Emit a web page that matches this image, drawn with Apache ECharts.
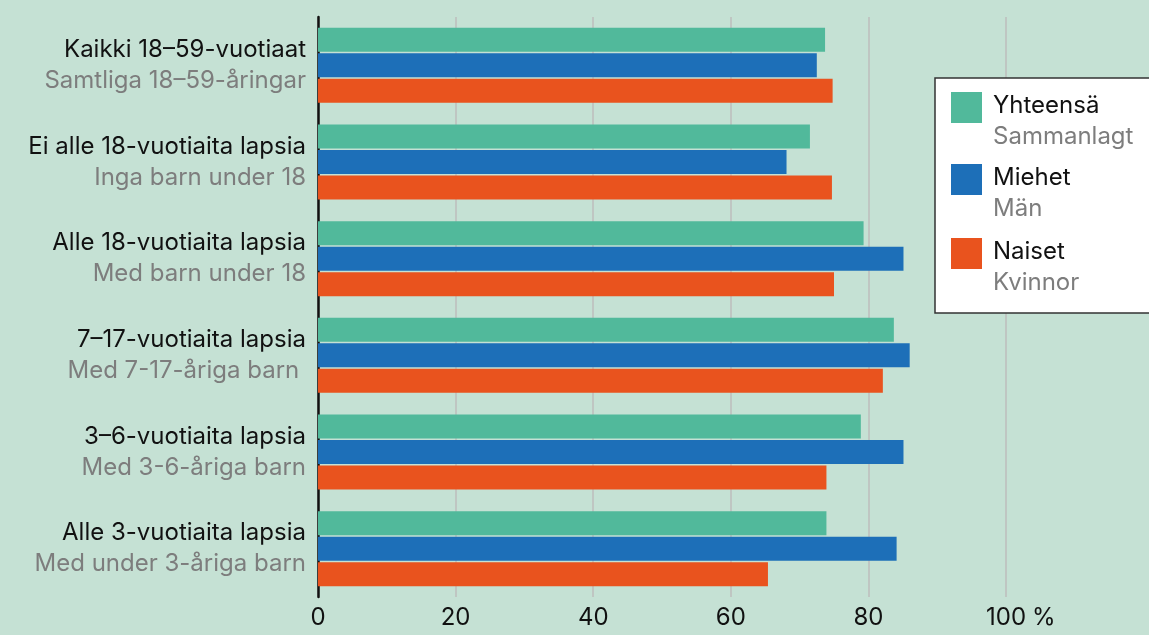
<!DOCTYPE html>
<html>
<head>
<meta charset="utf-8">
<script src="https://cdn.jsdelivr.net/npm/echarts@6/dist/echarts.min.js"></script>
<style>
html,body{margin:0;padding:0;background:#c5e1d4;}
#chart{width:1149px;height:635px;}
</style>
</head>
<body>
<div id="chart"></div>
<script>
var categoriesFi = ['Kaikki 18–59-vuotiaat','Ei alle 18-vuotiaita lapsia','Alle 18-vuotiaita lapsia','7–17-vuotiaita lapsia','3–6-vuotiaita lapsia','Alle 3-vuotiaita lapsia'];
var categoriesSv = ['Samtliga 18–59-åringar','Inga barn under 18','Med barn under 18','Med 7-17-åriga barn ','Med 3-6-åriga barn','Med under 3-åriga barn'];
var seriesNamesFi = ['Yhteensä','Miehet','Naiset'];
var seriesNamesSv = ['Sammanlagt','Män','Kvinnor'];
var totalValues = [73.7, 71.5, 79.3, 83.7, 78.9, 73.9];
var menValues   = [72.5, 68.1, 85.1, 86.0, 85.1, 84.1];
var womenValues = [74.8, 74.7, 75.0, 82.1, 73.9, 65.4];
var xTicks = [0, 20, 40, 60, 80, 100];

var FONT = 'Inter, Roboto, "Noto Sans", sans-serif';
var colors = ['#51b99b', '#1d6fb8', '#e9531e'];
var chart = echarts.init(document.getElementById('chart'));
var values = [totalValues, menValues, womenValues];
var legendIconTops = [92, 164, 238];

var legends = seriesNamesFi.map(function(n, i){
  return {
    z: 10,
    left: 951, top: legendIconTops[i] - 20.5, padding: 0,
    orient: 'vertical',
    itemWidth: 31, itemHeight: 31,
    icon: 'rect',
    data: [n],
    formatter: function(name){ return '{e| }\n{a|' + name + '}\n{b|' + seriesNamesSv[seriesNamesFi.indexOf(name)] + '}'; },
    textStyle: {
      padding: [0, 0, 0, 6],
      fontFamily: FONT,
      rich: {
        e: { fontSize: 10, lineHeight: 28, fontFamily: FONT },
        a: { fontSize: 24, color: '#111111', lineHeight: 31, fontFamily: FONT },
        b: { fontSize: 24, color: '#7d7d7d', lineHeight: 31, fontFamily: FONT }
      }
    }
  };
});

chart.setOption({
  backgroundColor: '#c5e1d4',
  animation: false,
  grid: { left: 318, right: 143, top: 17, bottom: 38, containLabel: false },
  graphic: [{
    type: 'rect', z: 3,
    shape: { x: 935, y: 78, width: 240, height: 235 },
    style: { fill: '#ffffff', stroke: '#333333', lineWidth: 1.5 }
  }],
  legend: legends,
  xAxis: {
    type: 'value', min: 0, max: 100, interval: 20,
    axisLine: { show: false },
    axisTick: { show: false },
    splitLine: { lineStyle: { color: '#bcbcbc', width: 1.5 } },
    axisLabel: {
      margin: 9,
      fontSize: 24, color: '#111111', fontFamily: FONT,
      formatter: function(v){ return v === 100 ? '{pad|}100{pct| %}' : String(v); },
      rich: {
        pad: { width: 29, fontSize: 24, fontFamily: FONT },
        pct: { width: 29, fontSize: 24, color: '#111111', fontFamily: FONT }
      }
    }
  },
  yAxis: {
    type: 'category', inverse: true,
    data: categoriesFi,
    axisLine: { show: true, lineStyle: { color: '#111111', width: 2.5 } },
    axisTick: { show: false },
    axisLabel: {
      margin: 12,
      formatter: function(v, i){ return '{a|' + v + '}\n{b|' + categoriesSv[i] + '}'; },
      rich: {
        a: { fontSize: 24, color: '#111111', lineHeight: 31, fontFamily: FONT, align: 'right' },
        b: { fontSize: 24, color: '#7d7d7d', lineHeight: 31, fontFamily: FONT, align: 'right' }
      }
    }
  },
  series: seriesNamesFi.map(function(n, i){
    return {
      name: n, type: 'bar', data: values[i],
      itemStyle: { color: colors[i] },
      barGap: '6%', barCategoryGap: '22.4%',
      z: 2
    };
  })
});
</script>
</body>
</html>
